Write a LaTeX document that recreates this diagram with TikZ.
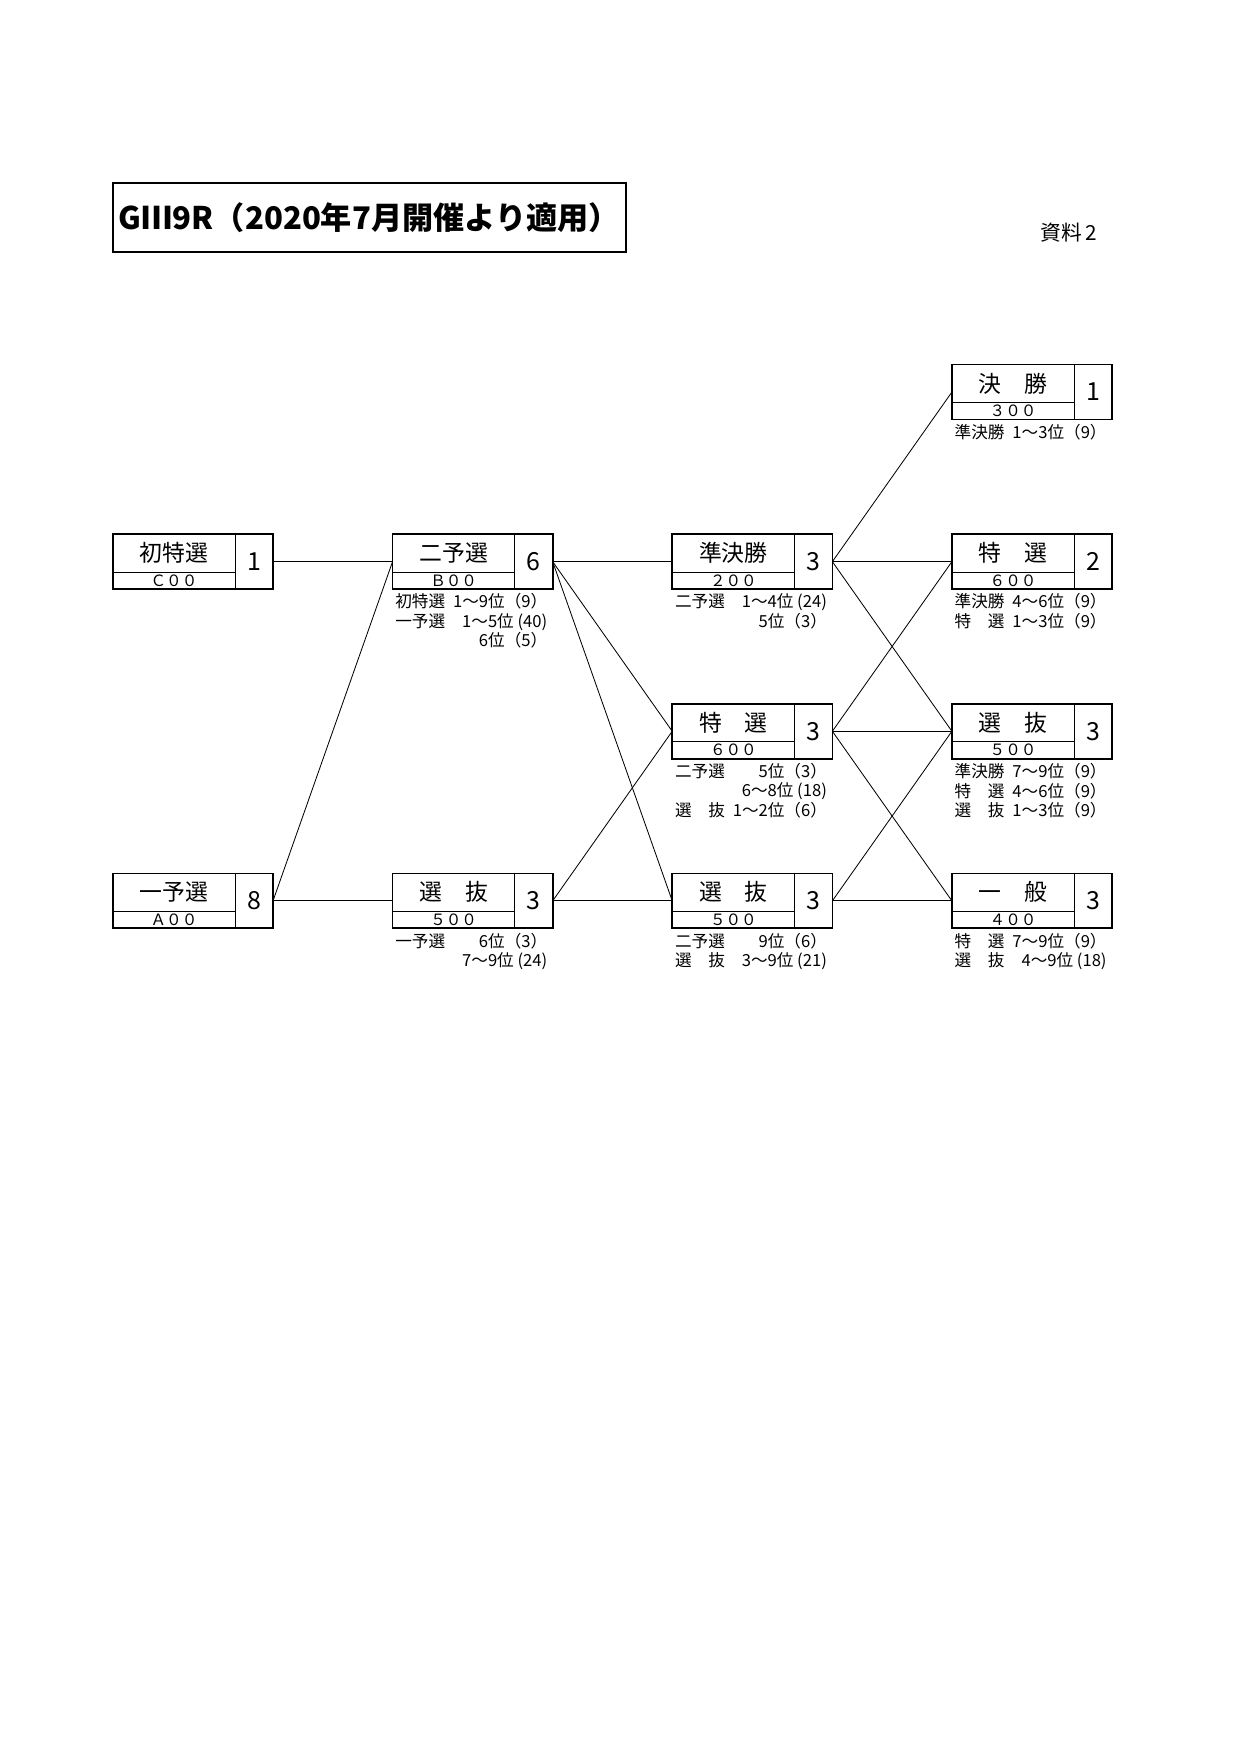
\documentclass[tikz,border=0pt]{standalone}
\usepackage{fontspec}
\setmainfont{Noto Sans CJK JP}
\usetikzlibrary{positioning}

\newcommand{\ranks}[1]{\begin{tabular*}{25.7mm}{@{}l@{\extracolsep{\fill}}r@{}}#1\end{tabular*}}

\begin{document}
\begin{tikzpicture}[
    node distance=19.4mm and 20.23mm,
    race/.style={draw, line width=0.8pt, minimum width=27.1mm, minimum height=9.3mm,
                 inner sep=0pt, outer sep=0pt,
                 path picture={
                   \draw[line width=0.4pt] ([xshift=20.7mm]path picture bounding box.north west)
                       -- ([xshift=20.7mm]path picture bounding box.south west);
                   \draw[line width=0.4pt] ([yshift=2.9mm]path picture bounding box.south west)
                       -- ([xshift=20.7mm,yshift=2.9mm]path picture bounding box.south west);}},
    racename/.style={label={[font=\fontsize{11}{13}\selectfont, xshift=-3.2mm, yshift=1.45mm]center:#1}},
    racecode/.style={label={[font=\fontsize{7.5}{8}\selectfont, xshift=-3.2mm, yshift=-3.2mm]center:#1}},
    racenum/.style={label={[font=\fontsize{12}{14}\selectfont, xshift=10.35mm]center:#1}},
    note/.style={anchor=north east, inner sep=0pt, xshift=-0.85mm, yshift=-0.7mm,
                 font=\fontsize{8}{8.7}\selectfont},
    link/.style={line width=0.4pt}
]
\useasboundingbox (0,0) rectangle (210mm,-297mm);

\node[draw, line width=1pt, minimum width=86.8mm, minimum height=11.6mm, inner sep=0.5mm,
      font=\bfseries\fontsize{15}{18}\selectfont] (head) at (62.5mm,-36.8mm)
      {GⅢ9R（2020年7月開催より適用）};
\node[font=\fontsize{10}{12}\selectfont] (doc) at (180.9mm,-39.4mm) {資料\,2};

% races
\node[race, racename=初特選, racecode=Ｃ００, racenum=1] (hatsu) at (32.65mm,-95.05mm) {};
\node[race, racename=二予選, racecode=Ｂ００, racenum=6, right=of hatsu] (niyo) {};
\node[race, racename=準決勝, racecode=２００, racenum=3, right=of niyo] (jun) {};
\node[race, racename=特　選, racecode=６００, racenum=2, right=of jun] (toku4) {};
\node[race, racename=決　勝, racecode=３００, racenum=1, above=of toku4] (kessho) {};
\node[race, racename=選　抜, racecode=５００, racenum=3, below=of toku4] (senb4) {};
\node[race, racename=一　般, racecode=４００, racenum=3, below=of senb4] (ippan) {};
\node[race, racename=特　選, racecode=６００, racenum=3, below=of jun] (toku3) {};
\node[race, racename=選　抜, racecode=５００, racenum=3, below=of toku3] (senb3) {};
\node[race, racename=選　抜, racecode=５００, racenum=3, left=of senb3] (senb2) {};
\node[race, racename=一予選, racecode=Ａ００, racenum=8, left=of senb2] (ichiyo) {};

% entry conditions
\node[note] (niyo-n) at (niyo.south east)
    {\ranks{初特選 & 1〜9位（9）\\ 一予選 & 1〜5位 (40)\\ & 6位（5）}};
\node[note] (senb2-n) at (senb2.south east)
    {\ranks{一予選 & 6位（3）\\ & 7〜9位 (24)}};
\node[note] (jun-n) at (jun.south east)
    {\ranks{二予選 & 1〜4位 (24)\\ & 5位（3）}};
\node[note] (toku3-n) at (toku3.south east)
    {\ranks{二予選 & 5位（3）\\ & 6〜8位 (18)\\ 選　抜 & 1〜2位（6）}};
\node[note] (senb3-n) at (senb3.south east)
    {\ranks{二予選 & 9位（6）\\ 選　抜 & 3〜9位 (21)}};
\node[note] (kessho-n) at (kessho.south east)
    {\ranks{準決勝 & 1〜3位（9）}};
\node[note] (toku4-n) at (toku4.south east)
    {\ranks{準決勝 & 4〜6位（9）\\ 特　選 & 1〜3位（9）}};
\node[note] (senb4-n) at (senb4.south east)
    {\ranks{準決勝 & 7〜9位（9）\\ 特　選 & 4〜6位（9）\\ 選　抜 & 1〜3位（9）}};
\node[note] (ippan-n) at (ippan.south east)
    {\ranks{特　選 & 7〜9位（9）\\ 選　抜 & 4〜9位 (18)}};

\draw[link] (hatsu.east) -- (niyo.west);
\draw[link] (ichiyo.east) -- (niyo.west);
\draw[link] (ichiyo.east) -- (senb2.west);
\draw[link] (niyo.east) -- (jun.west);
\draw[link] (niyo.east) -- (toku3.west);
\draw[link] (niyo.east) -- (senb3.west);
\draw[link] (senb2.east) -- (toku3.west);
\draw[link] (senb2.east) -- (senb3.west);
\draw[link] (jun.east) -- (kessho.west);
\draw[link] (jun.east) -- (toku4.west);
\draw[link] (jun.east) -- (senb4.west);
\draw[link] (toku3.east) -- (toku4.west);
\draw[link] (toku3.east) -- (senb4.west);
\draw[link] (toku3.east) -- (ippan.west);
\draw[link] (senb3.east) -- (senb4.west);
\draw[link] (senb3.east) -- (ippan.west);
\end{tikzpicture}
\end{document}
